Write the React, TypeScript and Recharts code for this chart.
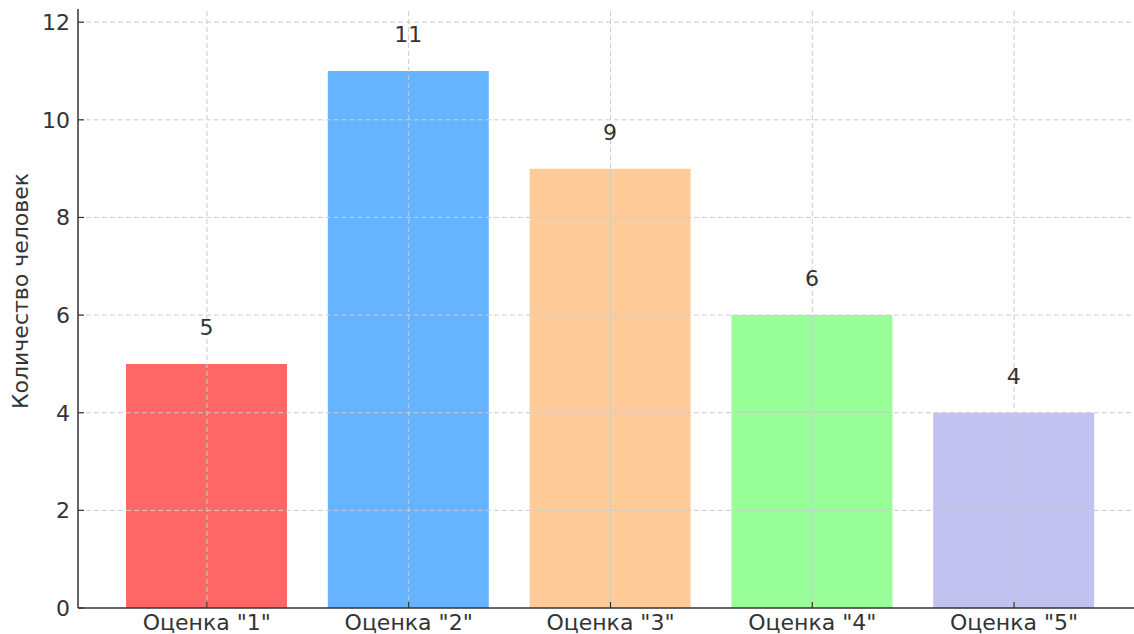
import { BarChart, Bar, XAxis, YAxis, ReferenceLine, Cell, LabelList, Label } from 'recharts';

const GRADES = ['Оценка "1"', 'Оценка "2"', 'Оценка "3"', 'Оценка "4"', 'Оценка "5"'];
const PEOPLE = [5, 11, 9, 6, 4];
const BAR_COLORS = ['#ff6666', '#66b3ff', '#ffcc99', '#99ff99', '#c2c2f0'];
const Y_TICKS = [0, 2, 4, 6, 8, 10, 12];
const Y_LABEL = 'Количество человек';

const FONT = '"DejaVu Sans", sans-serif';
const TEXT_COLOR = '#333333';
const AXIS_COLOR = '#333333';
const GRID_COLOR = '#cccccc';

const data = GRADES.map((grade, i) => ({ grade, count: PEOPLE[i] }));

// rotated y axis title, placed like matplotlib's ylabel
const YTitle = () => (
  <text
    x={20}
    y={291}
    transform="rotate(-90 20 291)"
    textAnchor="middle"
    dominantBaseline="central"
    fill={TEXT_COLOR}
    fontSize={22}
    fontFamily={FONT}
  >
    {Y_LABEL}
  </text>
);

export default function App() {
  return (
    <div style={{ position: 'absolute', left: 0, top: 0, width: 1134, height: 634, background: '#fff', fontFamily: FONT }}>
      <BarChart
        width={1134}
        height={634}
        data={data}
        margin={{ top: 9, right: 0, bottom: 0, left: 0 }}
      >
        <XAxis
          dataKey="grade"
          padding={{ left: 28, right: 19 }}
          tickSize={-6}
          tickMargin={12}
          axisLine={{ stroke: AXIS_COLOR, strokeWidth: 1.5 }}
          tickLine={{ stroke: AXIS_COLOR, strokeWidth: 1.2 }}
          tick={{ fill: TEXT_COLOR, fontSize: 22, fontFamily: FONT }}
          interval={0}
          height={26}
        />
        <YAxis
          domain={[0, 12.27]}
          ticks={Y_TICKS}
          allowDataOverflow
          width={78}
          tickSize={-6}
          tickMargin={14}
          axisLine={{ stroke: AXIS_COLOR, strokeWidth: 1.5 }}
          tickLine={{ stroke: AXIS_COLOR, strokeWidth: 1.2 }}
          tick={{ fill: TEXT_COLOR, fontSize: 22, fontFamily: FONT }}
        >
          <Label content={<YTitle />} />
        </YAxis>
        <Bar dataKey="count" barSize={161} isAnimationActive={false}>
          {data.map((d, i) => (
            <Cell key={d.grade} fill={BAR_COLORS[i]} />
          ))}
          <LabelList
            dataKey="count"
            position="top"
            offset={29}
            style={{ fill: TEXT_COLOR, fontSize: 22, fontFamily: FONT }}
          />
        </Bar>
        {Y_TICKS.slice(1).map((t) => (
          <ReferenceLine key={'h' + t} y={t} stroke={GRID_COLOR} strokeDasharray="5 3" strokeWidth={1} />
        ))}
        {GRADES.map((g) => (
          <ReferenceLine key={'v' + g} x={g} stroke={GRID_COLOR} strokeDasharray="5 3" strokeWidth={1} />
        ))}
      </BarChart>
    </div>
  );
}
